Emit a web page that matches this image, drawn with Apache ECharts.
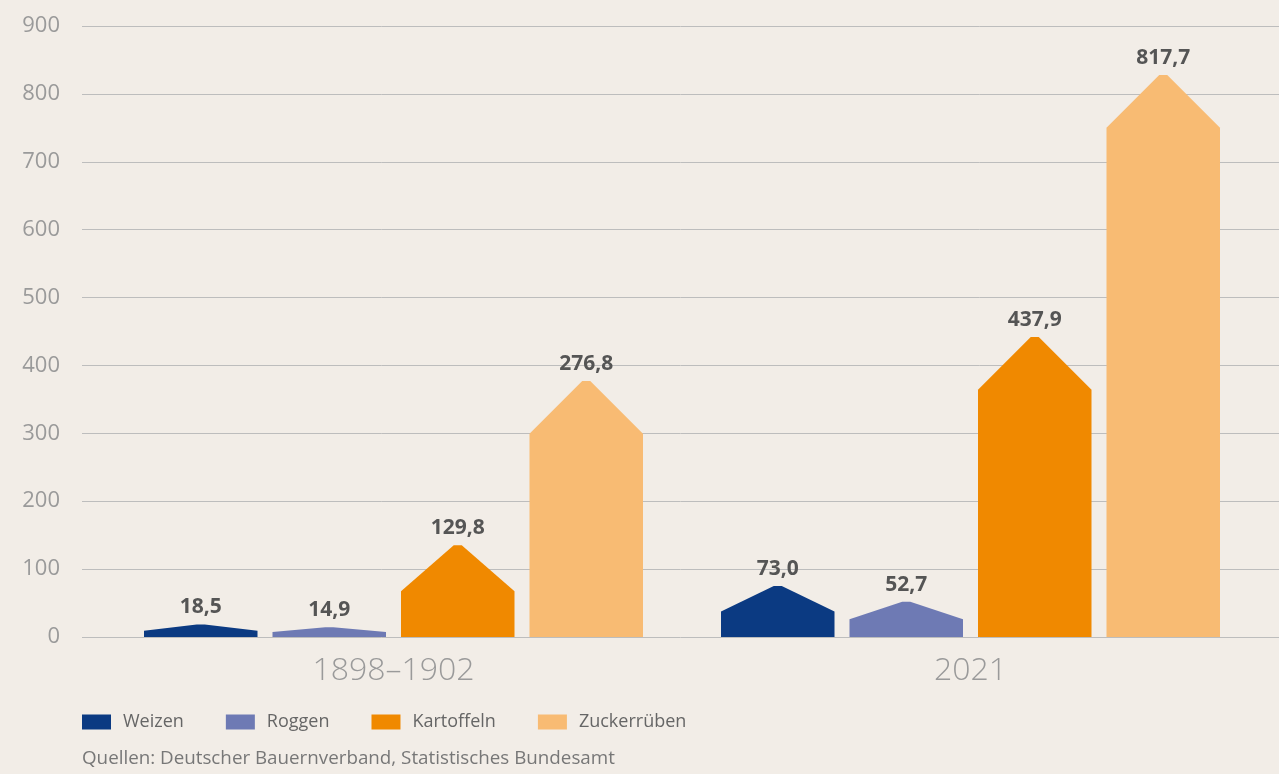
<!DOCTYPE html>
<html>
<head>
<meta charset="utf-8">
<script src="https://cdn.jsdelivr.net/npm/echarts@6/dist/echarts.min.js"></script>
<style>
html,body{margin:0;padding:0;background:#f2ede7;}
#chart{width:1279px;height:774px;}
</style>
</head>
<body>
<div id="chart"></div>
<script>
// ---- data ----
const categories = ['1898–1902', '2021'];
const crops = ['Weizen', 'Roggen', 'Kartoffeln', 'Zuckerrüben'];
// values shown as labels
const weizenValues = [18.5, 73.0];
const roggenValues = [14.9, 52.7];
const kartoffelnValues = [129.8, 437.9];
const zuckerrubenValues = [276.8, 817.7];
// bar peak heights as drawn in the picture (axis units)
const weizenHeights = [18.5, 75];
const roggenHeights = [14.5, 52];
const kartoffelnHeights = [135, 442];
const zuckerrubenHeights = [377, 828];
const yTicks = [0, 100, 200, 300, 400, 500, 600, 700, 800, 900];
const sourceText = 'Quellen: Deutscher Bauernverband, Statistisches Bundesamt';

const values = [weizenValues, roggenValues, kartoffelnValues, zuckerrubenValues];
const heights = [weizenHeights, roggenHeights, kartoffelnHeights, zuckerrubenHeights];
const colors = ['#0b3a82', '#6e7ab4', '#f08900', '#f8bb73'];
const offsets = [-192.75, -64.25, 64.25, 192.75];
const barW = 113.5;
const flat = 8;
const FONT = '"Open Sans", "Noto Sans", sans-serif';

function fmt(v) { return v.toFixed(1).replace('.', ','); }

const chart = echarts.init(document.getElementById('chart'));

const series = crops.map((name, si) => ({
  name: name,
  type: 'custom',
  xAxisIndex: 1,
  yAxisIndex: 1,
  itemStyle: { color: colors[si] },
  data: categories.map((c, ci) => [ci, heights[si][ci], values[si][ci]]),
  renderItem: function (params, api) {
    const base = api.coord([api.value(0), 0]);
    const top = api.coord([api.value(0), api.value(1)]);
    const cx = base[0] + offsets[si];
    const x0 = cx - barW / 2, x1 = cx + barW / 2;
    const y0 = base[1], yp = top[1];
    const total = y0 - yp;
    const roof = Math.min(total / 2, (barW - flat) / 2);
    return {
      type: 'group',
      children: [
        {
          type: 'polygon',
          shape: { points: [[x0, y0], [x0, yp + roof], [cx - flat / 2, yp], [cx + flat / 2, yp], [x1, yp + roof], [x1, y0]] },
          style: { fill: colors[si] }
        },
        {
          type: 'text',
          x: cx, y: yp - 17,
          style: {
            text: fmt(api.value(2)),
            fill: '#555555',
            font: 'bold 21px ' + FONT,
            textAlign: 'center',
            textVerticalAlign: 'middle'
          },
          z2: 10
        }
      ]
    };
  }
}));

chart.setOption({
  backgroundColor: '#f2ede7',
  animation: false,
  textStyle: { fontFamily: FONT },
  grid: [
    { left: 82, right: 0, top: 26, bottom: 137 },
    { left: 105, right: 20, top: 26, bottom: 137 }
  ],
  xAxis: [
    { gridIndex: 0, type: 'category', data: categories, show: false },
    {
      gridIndex: 1, type: 'category', data: categories,
      axisLine: { show: false }, axisTick: { show: false },
      axisLabel: { color: '#9a9a9a', fontSize: 32, fontWeight: 300, fontFamily: FONT, margin: 18 }
    }
  ],
  yAxis: [
    {
      gridIndex: 0, type: 'value', min: 0, max: 900, interval: 100,
      axisLine: { show: false }, axisTick: { show: false },
      axisLabel: { color: '#9a9a9a', fontSize: 22, fontFamily: FONT, margin: 22,
        formatter: v => yTicks.includes(v) ? String(v) : '' },
      splitLine: { lineStyle: { color: '#bdbdbd', width: 1 } }
    },
    { gridIndex: 1, type: 'value', min: 0, max: 900, interval: 100, show: false, splitLine: { show: false } }
  ],
  legend: {
    data: crops,
    left: 82, top: 713, padding: 0,
    icon: 'rect', itemWidth: 29, itemHeight: 15, itemGap: 42,
    textStyle: { color: '#666666', fontSize: 18, fontFamily: FONT, padding: [0, 0, 0, 7] }
  },
  graphic: [
    {
      type: 'text', left: 82, top: 749,
      style: { text: sourceText, fill: '#777777', font: '18.8px ' + FONT }
    }
  ],
  series: series
});
</script>
</body>
</html>
